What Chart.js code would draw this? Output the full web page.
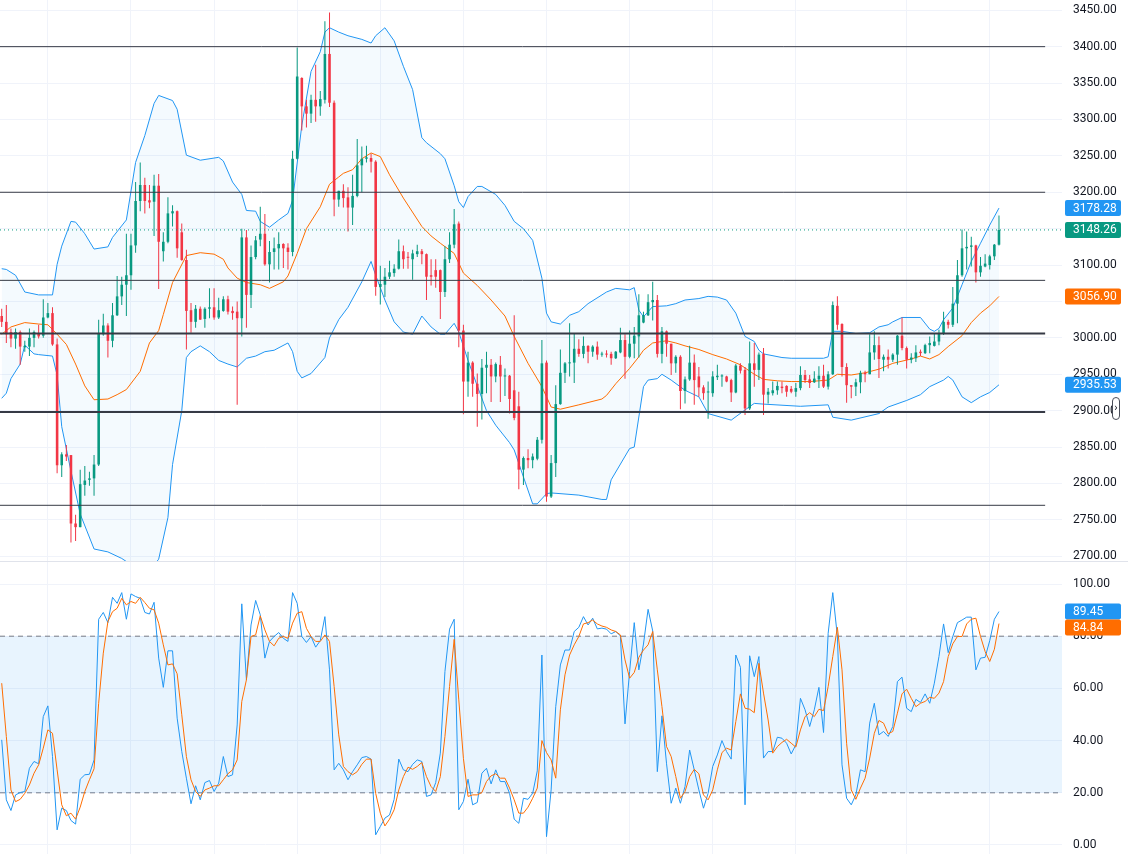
<!DOCTYPE html>
<html>
<head>
<meta charset="utf-8">
<title>Bollinger Bands + Stoch RSI</title>
<script src="https://cdn.jsdelivr.net/npm/chart.js@4.4.1/dist/chart.umd.min.js"></script>
<style>
  html, body { margin: 0; padding: 0; background: #ffffff; }
  #wrap { position: relative; width: 1128px; height: 854px; overflow: hidden; }
  #priceChart { position: absolute; left: 0; top: 0; }
  #sep { position: absolute; left: 0; top: 561px; width: 1128px; height: 1px; background: #e0e3eb; }
  #oscChart { position: absolute; left: 0; top: 562px; }
</style>
</head>
<body>
<div id="wrap">
  <canvas id="priceChart" width="1128" height="561"></canvas>
  <div id="sep"></div>
  <canvas id="oscChart" width="1128" height="292"></canvas>
</div>
<script>
// Candles, oldest first (one per bar)
const opens = [
  3030, 3022, 3008, 2999, 3008, 2987, 2988, 3000, 3006, 3003,
  3028, 3034, 2991, 2825, 2840, 2839, 2745, 2740, 2798, 2805,
  2807, 2826, 3005, 3017, 2996, 3031, 3057, 3073, 3086, 3127,
  3188, 3210, 3189, 3187, 3209, 3119, 3132, 3171, 3174, 3145,
  3107, 3038, 3022, 3040, 3026, 3040, 3042, 3028, 3037, 3053,
  3037, 3036, 3027, 3138, 3059, 3111, 3135, 3143, 3101, 3118,
  3123, 3129, 3124, 3118, 3246, 3357, 3318, 3308, 3327, 3318,
  3327, 3390, 3323, 3190, 3202, 3193, 3179, 3195, 3237, 3246,
  3247, 3242, 3070, 3073, 3084, 3089, 3095, 3119, 3111, 3108,
  3115, 3119, 3115, 3086, 3093, 3093, 3063, 3108, 3128, 3157,
  3010, 2940, 2966, 2937, 2923, 2959, 2963, 2947, 2963, 2947,
  2948, 2928, 2906, 2819, 2835, 2832, 2834, 2860, 2966, 2782,
  2828, 2909, 2952, 2965, 2966, 2985, 2978, 2989, 2981, 2988,
  2977, 2978, 2978, 2972, 2980, 2997, 2974, 2992, 3002, 3021,
  3031, 3049, 3052, 2978, 3009, 2992, 2965, 2974, 2927, 2943,
  2966, 2947, 2932, 2925, 2924, 2946, 2947, 2947, 2942, 2925,
  2962, 2956, 2903, 2965, 2956, 2978, 2922, 2924, 2928, 2933,
  2934, 2930, 2926, 2931, 2949, 2943, 2939, 2943, 2948, 2933,
  2950, 3044, 3019, 2960, 2935, 2933, 2939, 2952, 2950, 2980,
  2990, 2970, 2974, 2970, 2977, 3003, 2986, 2970, 2972, 2981,
  2979, 2990, 2989, 2995, 3006, 3022, 3018, 3047, 3086, 3123,
  3125, 3127, 3090, 3098, 3100, 3112, 3128
];
const highs = [
  3040, 3045, 3013, 3013, 3010, 2996, 3013, 3010, 3018, 3053,
  3048, 3042, 2999, 2843, 2853, 2839, 2757, 2819, 2824, 2816,
  2839, 3025, 3033, 3020, 3048, 3085, 3084, 3143, 3143, 3214,
  3241, 3220, 3210, 3224, 3225, 3145, 3193, 3182, 3175, 3157,
  3121, 3048, 3045, 3043, 3042, 3068, 3068, 3055, 3057, 3058,
  3043, 3050, 3150, 3148, 3127, 3140, 3180, 3170, 3133, 3138,
  3145, 3130, 3130, 3257, 3399, 3358, 3327, 3334, 3375, 3339,
  3435, 3447, 3326, 3202, 3211, 3207, 3224, 3273, 3263, 3264,
  3253, 3244, 3099, 3096, 3106, 3101, 3135, 3127, 3118, 3121,
  3128, 3122, 3116, 3108, 3108, 3094, 3126, 3145, 3177, 3160,
  3018, 2981, 2968, 2951, 2971, 2981, 2971, 2966, 2975, 2958,
  2949, 3031, 2926, 2837, 2847, 2841, 2864, 2997, 2969, 2839,
  2935, 2984, 2967, 3020, 3006, 2998, 3002, 2990, 2990, 2995,
  2981, 2983, 2981, 2982, 3014, 3005, 3010, 3015, 3060, 3036,
  3060, 3077, 3059, 3015, 3010, 2992, 2976, 2976, 2947, 2989,
  2977, 2960, 2935, 2940, 2954, 2963, 2950, 2948, 2944, 2964,
  2965, 2960, 2995, 2993, 2980, 2986, 2931, 2940, 2940, 2940,
  2935, 2934, 2938, 2961, 2956, 2949, 2954, 2961, 2963, 2954,
  3050, 3057, 3020, 2965, 2935, 2944, 2955, 2955, 3005, 3009,
  3002, 2977, 2984, 2979, 3004, 3028, 2988, 2979, 2990, 2984,
  2992, 3002, 3006, 3011, 3036, 3025, 3070, 3107, 3149, 3146,
  3139, 3128, 3111, 3115, 3114, 3129, 3168
];
const lows = [
  3015, 2993, 2987, 2985, 2963, 2981, 2975, 2987, 2999, 3000,
  3027, 2989, 2814, 2809, 2831, 2719, 2721, 2740, 2783, 2797,
  2783, 2824, 3003, 2973, 2987, 3030, 3045, 3030, 3066, 3117,
  3174, 3171, 3178, 3140, 3067, 3105, 3130, 3153, 3110, 3106,
  2984, 3007, 3014, 3025, 3014, 3027, 3025, 3026, 3036, 3032,
  3025, 2908, 3002, 3014, 3041, 3108, 3126, 3099, 3076, 3094,
  3094, 3096, 3094, 3112, 3245, 3285, 3289, 3295, 3297, 3305,
  3322, 3317, 3167, 3180, 3179, 3146, 3155, 3193, 3200, 3241,
  3227, 3058, 3046, 3056, 3081, 3084, 3094, 3095, 3095, 3080,
  3111, 3101, 3052, 3072, 3069, 3026, 3056, 3103, 3123, 2987,
  2895, 2919, 2919, 2878, 2888, 2924, 2912, 2939, 2912, 2920,
  2896, 2887, 2792, 2798, 2821, 2821, 2832, 2855, 2775, 2780,
  2809, 2908, 2938, 2947, 2938, 2974, 2972, 2965, 2974, 2970,
  2974, 2973, 2963, 2971, 2979, 2944, 2972, 2972, 2973, 3020,
  3030, 3024, 2973, 2965, 2974, 2949, 2952, 2902, 2910, 2941,
  2908, 2919, 2915, 2889, 2919, 2942, 2933, 2939, 2912, 2924,
  2951, 2894, 2901, 2933, 2942, 2894, 2910, 2921, 2922, 2924,
  2919, 2924, 2919, 2928, 2938, 2931, 2938, 2931, 2931, 2929,
  2949, 3011, 2947, 2911, 2917, 2920, 2924, 2939, 2950, 2970,
  2945, 2954, 2958, 2967, 2963, 2983, 2958, 2965, 2967, 2975,
  2978, 2979, 2988, 2990, 3004, 3013, 3015, 3020, 3084, 3094,
  3098, 3076, 3084, 3097, 3094, 3107, 3127
];
const closes = [
  3022, 3005, 2999, 3008, 2988, 2989, 3000, 3008, 3002, 3028,
  3034, 2991, 2825, 2840, 2837, 2745, 2740, 2799, 2804, 2807,
  2826, 3006, 3017, 2996, 3031, 3057, 3073, 3086, 3127, 3188,
  3210, 3188, 3186, 3209, 3132, 3132, 3171, 3174, 3123, 3107,
  3037, 3022, 3040, 3025, 3040, 3042, 3028, 3038, 3053, 3036,
  3034, 3027, 3138, 3059, 3111, 3134, 3143, 3101, 3118, 3123,
  3129, 3123, 3118, 3246, 3359, 3318, 3308, 3327, 3318, 3328,
  3390, 3323, 3190, 3202, 3192, 3179, 3195, 3237, 3246, 3248,
  3242, 3070, 3074, 3084, 3090, 3095, 3119, 3108, 3110, 3116,
  3119, 3115, 3084, 3084, 3084, 3063, 3108, 3128, 3156, 3010,
  2940, 2966, 2937, 2923, 2959, 2963, 2947, 2964, 2947, 2948,
  2916, 2890, 2819, 2835, 2832, 2837, 2860, 2965, 2782, 2828,
  2909, 2952, 2965, 2966, 2985, 2978, 2989, 2981, 2988, 2977,
  2978, 2977, 2972, 2981, 2997, 2974, 2992, 3003, 3031, 3031,
  3049, 3052, 2978, 3009, 2992, 2965, 2974, 2927, 2943, 2966,
  2942, 2932, 2924, 2926, 2947, 2948, 2948, 2940, 2925, 2962,
  2955, 2903, 2965, 2956, 2977, 2922, 2926, 2928, 2934, 2931,
  2926, 2926, 2931, 2949, 2942, 2938, 2944, 2948, 2933, 2950,
  3045, 3018, 2960, 2935, 2933, 2939, 2952, 2950, 2980, 2990,
  2971, 2974, 2970, 2977, 3003, 2986, 2970, 2973, 2980, 2979,
  2990, 2993, 2995, 3006, 3022, 3018, 3047, 3086, 3123, 3125,
  3127, 3090, 3099, 3102, 3112, 3128, 3148.26
];

// Bollinger Bands: [bar index, value]
const bbUpper = [
  [0,3095],[1,3094],[3,3086],[5,3063],[8,3059],[11,3059],[12,3101],[13,3126],[15,3160],[16,3159],
  [18,3143],[20,3122],[23,3125],[24,3138],[27,3162],[29,3241],[31,3278],[33,3322],[34,3333],[37,3326],
  [38,3314],[40,3251],[43,3244],[47,3248],[48,3243],[50,3214],[52,3197],[53,3175],[55,3174],[56,3160],
  [58,3152],[60,3162],[62,3171],[63,3189],[65,3292],[67,3366],[69,3393],[70,3420],[71,3426],[73,3420],
  [75,3415],[78,3410],[80,3405],[81,3415],[83,3426],[85,3408],[87,3373],[89,3341],[91,3275],[92,3268],
  [95,3253],[96,3246],[98,3209],[99,3187],[100,3179],[101,3194],[103,3208],[104,3208],[107,3197],[109,3182],
  [111,3160],[113,3150],[115,3134],[117,3082],[118,3034],[119,3022],[121,3019],[123,3031],[125,3036],[127,3047],
  [131,3063],[133,3068],[136,3066],[137,3069],[138,3038],[139,3029],[141,3043],[144,3044],[146,3047],[148,3052],
  [151,3054],[153,3057],[155,3056],[157,3052],[159,3034],[161,3002],[163,2995],[164,2983],[165,2978],[169,2973],
  [171,2972],[178,2972],[179,2974],[180,3009],[182,3009],[185,3006],[188,3007],[190,3015],[192,3018],[193,3022],
  [195,3028],[199,3028],[201,3012],[202,3009],[203,3013],[204,3025],[206,3041],[208,3073],[210,3105],[212,3130],
  [214,3155],[216,3178.28]
];
const bbBasis = [
  [0,3005],[2,3015],[5,3021],[8,3019],[10,3018],[12,3005],[14,2991],[16,2964],[18,2934],[20,2915],
  [23,2916],[25,2922],[27,2929],[30,2954],[32,2993],[34,3010],[35,3032],[37,3076],[40,3113],[43,3117],
  [46,3115],[48,3108],[49,3096],[51,3082],[53,3076],[56,3073],[58,3068],[61,3077],[62,3085],[64,3116],
  [66,3150],[69,3180],[71,3211],[73,3221],[74,3226],[76,3231],[78,3246],[80,3254],[82,3249],[84,3224],
  [87,3192],[91,3153],[93,3140],[95,3130],[98,3116],[100,3089],[103,3072],[106,3052],[109,3030],[111,3002],
  [114,2965],[117,2933],[119,2905],[121,2902],[125,2908],[130,2916],[131,2921],[133,2937],[136,2958],[138,2974],
  [139,2983],[141,2993],[144,2996],[146,2993],[148,2989],[151,2984],[154,2977],[157,2971],[160,2963],[163,2950],
  [165,2943],[168,2941],[171,2940],[175,2940],[179,2942],[181,2950],[184,2949],[187,2952],[190,2957],[193,2965],
  [197,2971],[199,2975],[201,2971],[203,2977],[205,2988],[208,3003],[210,3021],[212,3034],[214,3044],[216,3056.90]
];
const bbLower = [
  [0,2917],[1,2924],[2,2944],[4,2964],[5,2990],[7,2978],[8,2977],[11,2975],[12,2949],[13,2878],
  [15,2817],[17,2758],[20,2710],[23,2706],[26,2697],[30,2680],[33,2688],[34,2696],[36,2753],[37,2826],
  [39,2900],[40,2973],[41,2981],[43,2989],[45,2981],[47,2969],[49,2964],[51,2960],[53,2972],[55,2975],
  [57,2981],[59,2983],[62,2993],[63,2981],[64,2954],[65,2945],[67,2951],[70,2973],[71,3000],[73,3025],
  [75,3042],[78,3077],[80,3105],[81,3086],[83,3052],[85,3022],[87,3008],[89,3005],[91,3030],[93,3015],
  [95,3005],[96,3005],[98,3020],[99,3008],[101,2969],[103,2934],[105,2900],[107,2880],[110,2856],[111,2846],
  [113,2809],[115,2772],[116,2772],[118,2786],[119,2787],[125,2784],[130,2778],[131,2778],[132,2805],[136,2848],
  [137,2850],[139,2933],[140,2942],[142,2944],[143,2950],[145,2942],[148,2928],[151,2919],[153,2896],[158,2887],
  [161,2901],[163,2910],[165,2909],[173,2906],[179,2908],[180,2891],[184,2887],[190,2896],[192,2905],[196,2914],
  [199,2922],[201,2933],[204,2942],[205,2947],[206,2942],[208,2919],[210,2911],[212,2919],[214,2925],[216,2935.53]
];

// Stoch RSI, one value per bar
const stochK = [
  40.3, 17.3, 13.2, 19.2, 20.1, 20.5, 29.4, 32.0, 31.1, 49.2,
  53.3, 33.9, 5.8, 14.1, 13.2, 9.4, 8.0, 25.2, 26.9, 27.1,
  32.6, 86.5, 89.1, 85.2, 94.9, 92.6, 96.7, 86.5, 96.2, 95.2,
  94.5, 89.1, 88.5, 93.0, 71.6, 60.4, 74.4, 74.4, 48.6, 35.8,
  25.6, 15.8, 22.7, 17.3, 23.9, 24.7, 20.5, 23.7, 33.9, 26.2,
  26.9, 46.0, 92.4, 63.3, 84.3, 93.7, 88.2, 71.6, 78.0, 79.9,
  81.4, 79.2, 78.0, 96.7, 92.6, 79.9, 77.6, 79.9, 75.8, 78.3,
  87.5, 67.1, 28.8, 31.3, 28.8, 25.0, 28.1, 30.7, 33.5, 33.9,
  32.9, 3.9, 7.1, 10.3, 11.5, 17.5, 32.9, 28.8, 28.1, 30.9,
  32.6, 32.0, 18.6, 19.2, 23.9, 35.2, 66.5, 82.7, 86.5, 13.5,
  16.7, 25.2, 15.4, 16.3, 27.5, 29.4, 23.4, 28.8, 24.3, 24.3,
  19.8, 9.9, 8.3, 17.9, 17.5, 19.8, 28.4, 72.8, 3.2, 21.1,
  53.0, 69.0, 74.7, 74.7, 81.8, 83.4, 87.5, 84.3, 86.9, 82.8,
  83.1, 82.7, 80.9, 81.8, 80.1, 46.4, 66.5, 85.2, 67.1, 77.0,
  90.3, 82.0, 28.1, 49.5, 31.1, 16.0, 21.8, 16.0, 22.4, 36.4,
  28.8, 21.1, 14.1, 19.8, 30.1, 34.5, 40.0, 35.8, 32.9, 72.8,
  68.1, 15.4, 72.5, 64.5, 72.2, 33.3, 35.8, 35.8, 41.3, 40.9,
  39.0, 34.9, 38.4, 56.2, 51.8, 45.4, 51.8, 60.4, 43.1, 81.1,
  96.7, 79.9, 30.7, 17.9, 15.4, 19.2, 28.8, 28.1, 46.7, 54.3,
  42.2, 43.5, 41.6, 45.4, 62.6, 64.3, 52.4, 51.1, 55.8, 54.6,
  57.9, 54.3, 62.0, 72.2, 84.7, 73.7, 79.9, 85.2, 86.2, 87.3,
  87.3, 67.1, 71.6, 71.9, 78.3, 86.5, 89.45
];
const stochD = [
  62.0, 41.6, 21.1, 16.6, 17.5, 19.8, 23.0, 27.5, 30.7, 37.1,
  44.1, 42.8, 28.8, 15.4, 11.2, 12.2, 9.9, 14.5, 20.5, 25.0,
  29.2, 54.3, 73.5, 85.6, 89.4, 90.7, 94.5, 92.0, 93.3, 92.6,
  94.9, 92.9, 90.7, 90.1, 85.0, 76.7, 69.0, 69.4, 65.6, 49.9,
  33.9, 25.0, 20.5, 18.6, 21.1, 21.8, 22.7, 22.7, 25.0, 27.3,
  28.8, 32.6, 55.0, 63.3, 79.9, 80.5, 87.8, 82.4, 78.0, 76.3,
  79.2, 79.9, 79.2, 85.0, 88.8, 89.4, 83.0, 79.9, 78.0, 78.0,
  80.5, 78.0, 60.7, 42.2, 30.1, 28.1, 26.9, 28.1, 30.9, 32.9,
  32.9, 19.8, 12.2, 7.3, 9.9, 13.5, 21.1, 26.2, 29.8, 29.0,
  30.1, 31.6, 26.2, 22.4, 20.5, 26.2, 41.6, 60.7, 78.8, 55.6,
  33.2, 18.6, 19.2, 19.2, 20.1, 24.3, 26.5, 27.3, 25.6, 25.6,
  21.8, 17.3, 12.2, 12.2, 14.5, 17.9, 21.8, 40.0, 35.4, 32.6,
  25.6, 51.8, 65.2, 72.8, 76.7, 79.9, 84.7, 85.2, 86.2, 84.7,
  83.9, 83.4, 82.4, 81.8, 80.5, 70.9, 63.9, 66.1, 71.9, 74.7,
  76.7, 81.8, 67.1, 53.0, 37.7, 33.9, 26.2, 17.9, 20.5, 26.2,
  29.0, 27.3, 19.2, 17.3, 21.1, 28.8, 35.4, 37.1, 36.4, 47.3,
  57.9, 52.4, 52.0, 50.7, 69.6, 58.2, 47.9, 35.2, 37.7, 39.3,
  40.5, 39.0, 37.5, 44.1, 49.2, 50.7, 49.2, 52.0, 51.5, 60.7,
  72.2, 83.4, 67.1, 39.0, 21.1, 17.5, 21.8, 25.6, 33.3, 42.8,
  47.7, 46.7, 42.6, 43.5, 50.5, 57.9, 59.7, 56.2, 53.0, 54.3,
  55.0, 56.6, 56.2, 58.2, 62.6, 72.2, 77.1, 79.9, 79.9, 84.7,
  86.5, 86.9, 79.9, 74.1, 70.3, 75.0, 84.84
];

// Horizontal levels drawn on the price pane
const levels = [3400, 3200, 3079, 3006, 2898, 2770];
const levelWidths = [1, 1, 1, 2, 2, 1];
const levelEnd = 226;

// Tick labels and time grid (bar index)
const priceTicks = [2700, 2750, 2800, 2850, 2900, 2950, 3000, 3050, 3100, 3150, 3200, 3250, 3300, 3350, 3400, 3450];
const oscTicks = [0, 20, 40, 60, 80, 100];
const oscBands = [80, 20];
const timeGrid = [10, 28, 46, 64, 82, 100, 118, 136, 154, 172, 196, 214];

// Visible ranges
const xMin = -0.37, xMax = 229.65;
const priceMin = 2693.5, priceMax = 3464.1;
const oscMin = -3.45, oscMax = 108.43;

const UP = '#089981', DOWN = '#f23645', BLUE = '#2196f3', ORANGE = '#ff6d00';
const LEVEL = '#363a45', GRID = '#f0f3fa', TEXT = '#131722', FONT = 'Roboto';

const idx = closes.map((c, i) => i);
const last = closes.length - 1;
const candleColor = idx.map(i => closes[i] >= opens[i] ? UP : DOWN);
const pairs = arr => arr.map(p => ({ x: p[0], y: p[1] }));
const flat = (v, from, to) => [{ x: from, y: v }, { x: to, y: v }];

function timeScale() {
  return {
    type: 'linear', min: xMin, max: xMax, offset: false,
    border: { display: false },
    ticks: { display: false },
    grid: { color: GRID, drawTicks: false, offset: false },
    afterBuildTicks: s => { s.min = xMin; s.max = xMax; s.ticks = timeGrid.map(v => ({ value: v })); },
    afterFit: s => { s.height = 0; s.paddingLeft = 0; s.paddingRight = 0; }
  };
}

function valueScale(lo, hi, ticks) {
  return {
    type: 'linear', position: 'right', min: lo, max: hi, beginAtZero: false,
    border: { display: false },
    grid: { color: GRID, drawTicks: false },
    ticks: {
      color: TEXT, padding: 11, autoSkip: false,
      font: { family: FONT, size: 12 },
      callback: v => Number(v).toFixed(2)
    },
    afterBuildTicks: s => { s.min = lo; s.max = hi; s.ticks = ticks.map(v => ({ value: v })); },
    afterFit: s => { s.width = 66; s.paddingTop = 0; s.paddingBottom = 0; }
  };
}

function roundRect(ctx, x, y, w, h, r) {
  ctx.beginPath();
  ctx.moveTo(x + r, y);
  ctx.arcTo(x + w, y, x + w, y + h, r);
  ctx.arcTo(x + w, y + h, x, y + h, r);
  ctx.arcTo(x, y + h, x, y, r);
  ctx.arcTo(x, y, x + w, y, r);
  ctx.closePath();
}

// Last-value labels on the right scale, pushed down when they overlap
function drawTags(chart, tags) {
  const { ctx, chartArea } = chart;
  const scale = chart.scales.y;
  const list = tags.map(t => ({ v: t.v, c: t.c, py: scale.getPixelForValue(t.v) }))
    .sort((a, b) => a.py - b.py);
  let prevBottom = -Infinity;
  ctx.save();
  ctx.font = '12px ' + FONT;
  ctx.textBaseline = 'middle';
  ctx.textAlign = 'left';
  list.forEach(t => {
    const top = Math.max(t.py - 8, prevBottom);
    ctx.fillStyle = t.c;
    roundRect(ctx, chartArea.right + 3, top, 56, 16, 2);
    ctx.fill();
    ctx.fillStyle = '#ffffff';
    ctx.fillText(t.v.toFixed(2), chartArea.right + 11, top + 8.5);
    prevBottom = top + 16;
  });
  ctx.restore();
}

const priceTags = {
  id: 'priceTags',
  afterDraw(chart) {
    drawTags(chart, [
      { v: bbUpper[bbUpper.length - 1][1], c: BLUE },
      { v: closes[last], c: UP },
      { v: bbBasis[bbBasis.length - 1][1], c: ORANGE },
      { v: bbLower[bbLower.length - 1][1], c: BLUE }
    ]);
    // small scroll button on the price scale
    const ctx = chart.ctx, r = chart.chartArea.right;
    ctx.save();
    roundRect(ctx, r + 50.5, 397.5, 7, 22, 3.5);
    ctx.fillStyle = '#ffffff';
    ctx.fill();
    ctx.strokeStyle = '#4a4e59';
    ctx.lineWidth = 1;
    ctx.stroke();
    ctx.fillStyle = TEXT;
    ctx.font = '11px ' + FONT;
    ctx.textAlign = 'center';
    ctx.textBaseline = 'middle';
    ctx.fillText('\u203A', r + 54, 408);
    ctx.restore();
  }
};

const oscTags = {
  id: 'oscTags',
  afterDraw(chart) {
    drawTags(chart, [
      { v: stochK[last], c: BLUE },
      { v: stochD[last], c: ORANGE }
    ]);
  }
};

const common = {
  responsive: false,
  animation: false,
  events: [],
  layout: { padding: 0, autoPadding: false },
  plugins: { legend: { display: false }, tooltip: { enabled: false } }
};

new Chart(document.getElementById('priceChart').getContext('2d'), {
  type: 'line',
  data: {
    datasets: [
      ...levels.map((v, i) => ({
        type: 'line', data: flat(v, xMin, levelEnd),
        borderColor: LEVEL, borderWidth: levelWidths[i], pointRadius: 0, order: 0
      })),
      {
        type: 'line', data: flat(closes[last], xMin, xMax),
        borderColor: UP, borderWidth: 1, borderDash: [1, 3], pointRadius: 0, order: 0
      },
      {
        type: 'bar',
        data: idx.map(i => ({ x: i, y: [Math.min(opens[i], closes[i]), Math.max(opens[i], closes[i])] })),
        backgroundColor: candleColor, grouped: false, barPercentage: 0.7,
        maxBarThickness: 3, minBarLength: 1, order: 1
      },
      {
        type: 'bar',
        data: idx.map(i => ({ x: i, y: [lows[i], highs[i]] })),
        backgroundColor: candleColor, grouped: false, barPercentage: 0.5,
        maxBarThickness: 1, order: 2
      },
      {
        type: 'line', data: pairs(bbBasis),
        borderColor: ORANGE, borderWidth: 1, pointRadius: 0, order: 3
      },
      {
        type: 'line', data: pairs(bbUpper),
        borderColor: BLUE, borderWidth: 1, pointRadius: 0,
        fill: '+1', backgroundColor: 'rgba(33, 150, 243, 0.05)', order: 4
      },
      {
        type: 'line', data: pairs(bbLower),
        borderColor: BLUE, borderWidth: 1, pointRadius: 0, order: 4
      }
    ]
  },
  options: {
    ...common,
    scales: { x: timeScale(), y: valueScale(priceMin, priceMax, priceTicks) }
  },
  plugins: [priceTags]
});

new Chart(document.getElementById('oscChart').getContext('2d'), {
  type: 'line',
  data: {
    datasets: [
      {
        type: 'line', data: idx.map(i => ({ x: i, y: stochD[i] })),
        borderColor: ORANGE, borderWidth: 1, pointRadius: 0, order: 0
      },
      {
        type: 'line', data: idx.map(i => ({ x: i, y: stochK[i] })),
        borderColor: BLUE, borderWidth: 1, pointRadius: 0, order: 1
      },
      {
        type: 'line', data: flat(oscBands[0], xMin, xMax),
        borderColor: '#787b86', borderWidth: 1, borderDash: [5, 4], pointRadius: 0,
        fill: '+1', backgroundColor: 'rgba(33, 150, 243, 0.1)', order: 2
      },
      {
        type: 'line', data: flat(oscBands[1], xMin, xMax),
        borderColor: '#787b86', borderWidth: 1, borderDash: [5, 4], pointRadius: 0, order: 2
      }
    ]
  },
  options: {
    ...common,
    scales: { x: timeScale(), y: valueScale(oscMin, oscMax, oscTicks) }
  },
  plugins: [oscTags]
});
</script>
</body>
</html>
